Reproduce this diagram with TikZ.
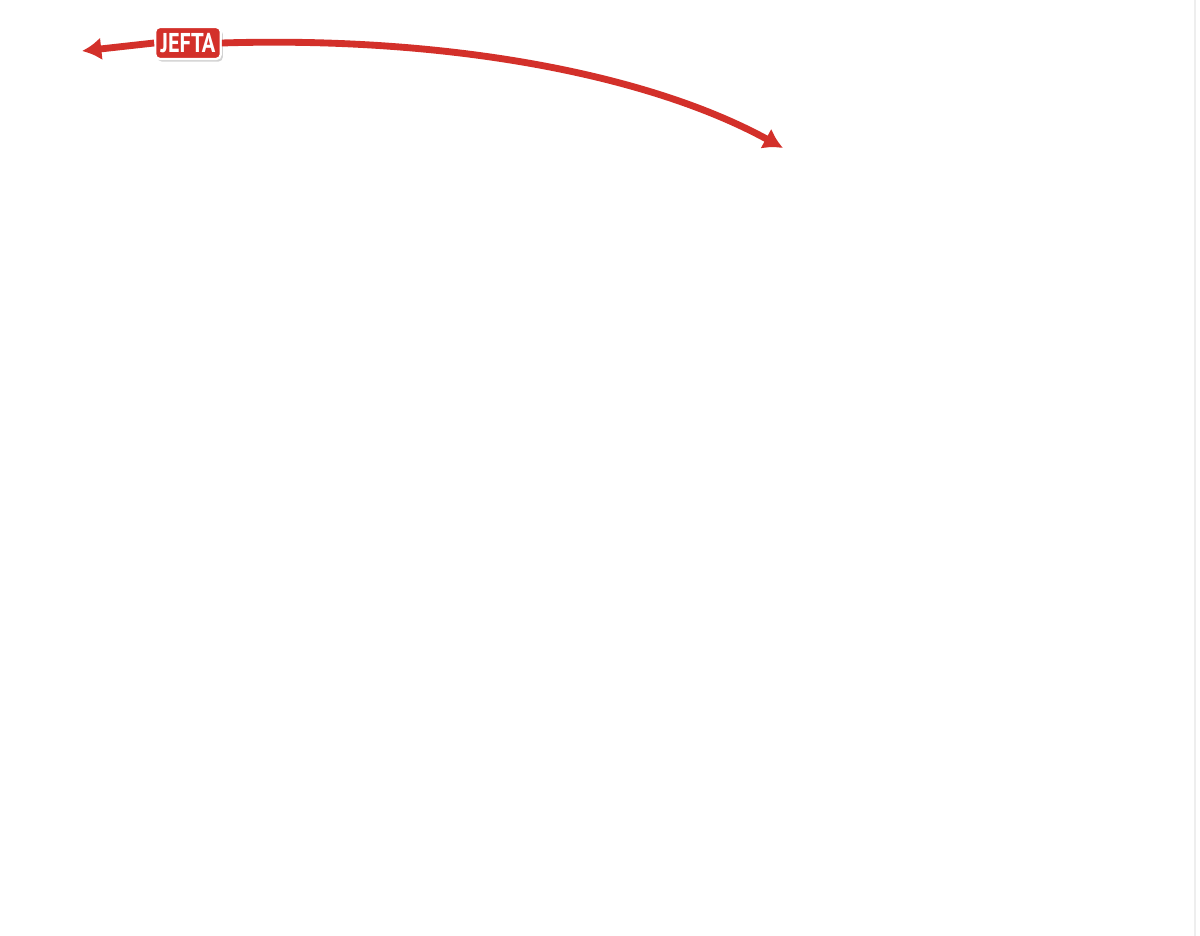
\documentclass[tikz,border=0pt]{standalone}
\usepackage{fontspec}
\usetikzlibrary{arrows.meta,shadows}
\newfontfamily\tagfont[FakeStretch=0.82]{PT Sans}
\definecolor{jeftared}{HTML}{D3302A}
\definecolor{edgegray}{HTML}{EEEEEE}
\tikzset{
  treatytag/.style={draw=white,line width=1.3pt,fill=jeftared,rounded corners=2.5pt,
    text=white,font=\tagfont\bfseries\fontsize{15.5}{16}\selectfont,
    inner xsep=3pt,inner ysep=3.5pt,drop shadow={opacity=.35,shadow xshift=1.2pt,shadow yshift=-1.5pt}},
  treatyline/.style={jeftared,line width=3.9pt,-{Latex[length=11pt,width=13pt]}}
}

\begin{document}
\begin{tikzpicture}[x=0.02cm,y=-0.02cm]
 \useasboundingbox[fill=white] (0,0) rectangle (1200,936);
 \draw[edgegray,line width=1.2pt] (1195,0) -- (1195,936);
 \coordinate (west) at (82,51);
 \coordinate (east) at (783,148);
 \node[treatytag] (jefta) at (188,43) {JEFTA};
 \draw[treatyline] (jefta.west) -- (west);
 \draw[treatyline] (jefta.east) .. controls (450,36) and (650,75) .. (east);
\end{tikzpicture}
\end{document}
